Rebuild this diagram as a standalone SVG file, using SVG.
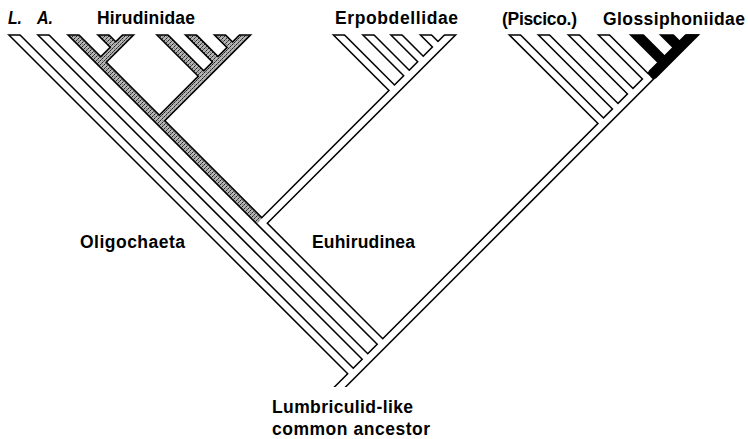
<svg xmlns="http://www.w3.org/2000/svg" width="748" height="439" viewBox="0 0 748 439">
<defs>
<clipPath id="co"><rect x="0" y="34.2" width="748" height="352.8"/></clipPath>
<clipPath id="ci"><rect x="0" y="35.7" width="748" height="351.3"/></clipPath>
<pattern id="stip" width="4" height="4" patternUnits="userSpaceOnUse">
<rect width="4" height="4" fill="#b4b4b4"/>
<rect x="0" y="0" width="1" height="1" fill="#222"/>
<rect x="2" y="2" width="1" height="1" fill="#222"/>
<rect x="1" y="3" width="1" height="1" fill="#555"/>
<rect x="3" y="1" width="1" height="1" fill="#555"/>
<rect x="2" y="0" width="1" height="1" fill="#888"/>
</pattern>
<style>
.o{stroke:#000;stroke-width:9.4;fill:none;stroke-linecap:butt;stroke-linejoin:miter}
.w{stroke:#fff;stroke-width:6.4;fill:none;stroke-linecap:butt}
.g{stroke:url(#stip);stroke-width:6.2;fill:none;stroke-linecap:butt}
text{font-family:"Liberation Sans",Arial,sans-serif;font-weight:bold;font-size:17.5px;fill:#000}
.it{font-style:italic}
</style>
</defs>
<rect width="748" height="439" fill="#fff"/>
<g id="connectors">
<g id="outlines" clip-path="url(#co)">
<path class="o" d="M4.5,25L353.25,373.75"/>
<path class="o" d="M33.5,25L367.75,359.25"/>
<path class="o" d="M63.5,25L382.75,344.25"/>
<path class="o" d="M138,25L100.75,62.25"/>
<path class="o" d="M93.5,25L115.75,47.25"/>
<path class="o" d="M255,25L159.25,120.75"/>
<path class="o" d="M152.5,25L203.75,76.25"/>
<path class="o" d="M181,25L218,62"/>
<path class="o" d="M210,25L232.5,47.5"/>
<path class="o" d="M460,25L261.75,223.25"/>
<path class="o" d="M329,25L394.5,90.5"/>
<path class="o" d="M358.5,25L409.25,75.75"/>
<path class="o" d="M386.5,25L423.25,61.75"/>
<path class="o" d="M416,25L438,47"/>
<path class="o" d="M702,25L332,395"/>
<path class="o" d="M505,25L603.5,123.5"/>
<path class="o" d="M534,25L618,109"/>
<path class="o" d="M564,25L633,94"/>
<path class="o" d="M594,25L648,79"/>
<path class="o" d="M627,25L664.5,62.5" style="stroke-width:10.5"/>
<path class="o" d="M657,25L680.5,48.5" style="stroke-width:10.5"/>
<path class="o" d="M702,25L652,75" style="stroke-width:10.5"/>
</g>
<g id="fills" clip-path="url(#ci)">
<path class="w" d="M4.5,25L353.25,373.75"/>
<path class="w" d="M33.5,25L367.75,359.25"/>
<path class="g" d="M63.5,25L259.5,221"/>
<path class="g" d="M138,25L100.75,62.25"/>
<path class="g" d="M93.5,25L115.75,47.25"/>
<path class="g" d="M255,25L159.25,120.75"/>
<path class="g" d="M152.5,25L203.75,76.25"/>
<path class="g" d="M181,25L218,62"/>
<path class="g" d="M210,25L232.5,47.5"/>
<path class="w" d="M460,25L261.75,223.25"/>
<path class="w" d="M259.5,221L382.75,344.25"/>
<path class="w" d="M329,25L394.5,90.5"/>
<path class="w" d="M358.5,25L409.25,75.75"/>
<path class="w" d="M386.5,25L423.25,61.75"/>
<path class="w" d="M416,25L438,47"/>
<path class="w" d="M505,25L603.5,123.5"/>
<path class="w" d="M534,25L618,109"/>
<path class="w" d="M564,25L633,94"/>
<path class="w" d="M594,25L648,79"/>
<path class="w" d="M650.26,76.74L332,395"/>
</g>
</g>
<g id="label-L"><text class="it" x="8" y="23.5" textLength="14" lengthAdjust="spacingAndGlyphs">L.</text></g>
<g id="label-A"><text class="it" x="37" y="23.5" textLength="16" lengthAdjust="spacingAndGlyphs">A.</text></g>
<g id="label-hirudinidae"><text x="97" y="23.5" textLength="98">Hirudinidae</text></g>
<g id="label-erpobdellidae"><text x="335" y="23.5" textLength="123">Erpobdellidae</text></g>
<g id="label-piscicolidae"><text x="502" y="25" textLength="75">(Piscico.)</text></g>
<g id="label-glossiphoniidae"><text x="603" y="25" textLength="142">Glossiphoniidae</text></g>
<g id="label-oligochaeta"><text x="80" y="248" textLength="105">Oligochaeta</text></g>
<g id="label-euhirudinea"><text x="312" y="248" textLength="103">Euhirudinea</text></g>
<g id="label-ancestor"><text x="272" y="413" textLength="141">Lumbriculid-like</text><text x="272" y="435" textLength="158">common ancestor</text></g>
</svg>
